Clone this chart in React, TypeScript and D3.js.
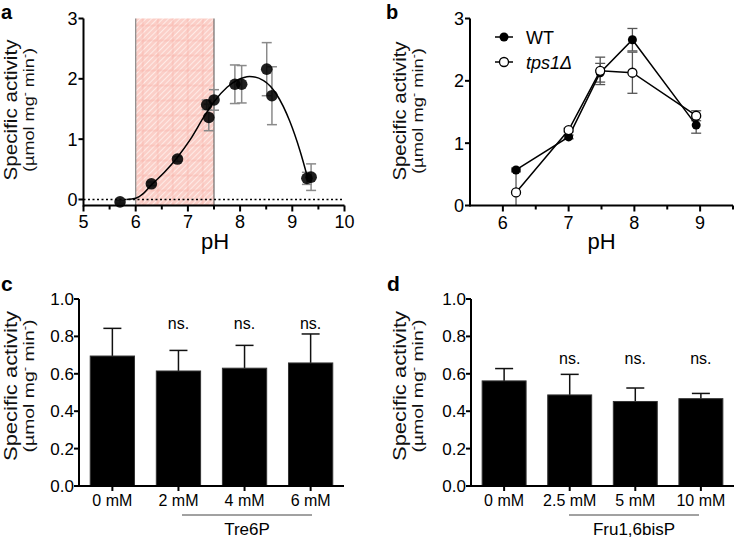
import React from "react";
import * as d3 from "d3";

// ---------- Panel a data ----------
const phA = [5.7, 6.3, 6.8, 7.36, 7.4, 7.5, 7.9, 8.03, 8.51, 8.61, 9.28, 9.36];
const actA = [-0.04, 0.26, 0.67, 1.57, 1.36, 1.65, 1.91, 1.91, 2.16, 1.72, 0.35, 0.37];
const errA = [0.02, 0.03, 0.04, 0.08, 0.22, 0.17, 0.32, 0.31, 0.44, 0.48, 0.1, 0.22];
const fitPhA = [5.82, 6.0, 6.15, 6.3, 6.55, 6.8, 7.05, 7.3, 7.5, 7.75, 7.95, 8.18, 8.45, 8.7, 8.95, 9.15, 9.3];
const fitActA = [0.0, 0.02, 0.1, 0.24, 0.45, 0.7, 1.0, 1.36, 1.62, 1.86, 1.98, 2.04, 1.97, 1.74, 1.3, 0.8, 0.34];
const shadeA = [6, 7.5];
const xTicksA = [5, 6, 7, 8, 9, 10];
const yTicksA = [0, 1, 2, 3];

// ---------- Panel b data ----------
const phB = [6.2, 7.0, 7.48, 7.97, 8.94];
const wtB = [0.57, 1.1, 2.13, 2.66, 1.29];
const wtErrB = [0.03, 0.03, 0.15, 0.18, 0.13];
const tpsB = [0.21, 1.21, 2.16, 2.13, 1.44];
const tpsErrB = [0.36, 0.03, 0.22, 0.33, 0.08];
const xTicksB = [6, 7, 8, 9];
const yTicksB = [0, 1, 2, 3];

// ---------- Panel c data ----------
const catsC = ["0 mM", "2 mM", "4 mM", "6 mM"];
const valC = [0.695, 0.615, 0.63, 0.658];
const errC = [0.148, 0.11, 0.122, 0.155];
const sigC = ["", "ns.", "ns.", "ns."];
const groupC = "Tre6P";

// ---------- Panel d data ----------
const catsD = ["0 mM", "2.5 mM", "5 mM", "10 mM"];
const valD = [0.562, 0.487, 0.452, 0.467];
const errD = [0.066, 0.11, 0.072, 0.028];
const sigD = ["", "ns.", "ns.", "ns."];
const groupD = "Fru1,6bisP";

const yTicksBar = [0, 0.2, 0.4, 0.6, 0.8, 1.0];

const FONT = "'Liberation Sans', Arial, Helvetica, sans-serif";

function YTitle({ x, y, len1, len2 }: { x: number; y: number; len1: number; len2: number }) {
  return (
    <g transform={`translate(${x},${y}) rotate(-90)`}>
      <text x={0} y={0} textAnchor="middle" fontSize={19} fill="#111" textLength={len1} lengthAdjust="spacingAndGlyphs">
        Specific activity
      </text>
      <text x={0} y={17} textAnchor="middle" fontSize={15} fill="#111" textLength={len2} lengthAdjust="spacingAndGlyphs">
        (µmol mg<tspan dy={-6} fontSize={10}>-</tspan>
        <tspan dy={6}> min</tspan>
        <tspan dy={-6} fontSize={10}>-</tspan>
        <tspan dy={6}>)</tspan>
      </text>
    </g>
  );
}

function PanelA() {
  const x = d3.scaleLinear().domain([5, 10]).range([83.5, 344.5]);
  const y = d3.scaleLinear().domain([-0.1, 3]).range([205.5, 18.5]);
  const minor = d3.range(5.5, 10, 1);
  const line = d3
    .line<number>()
    .x((_, i) => x(fitPhA[i]))
    .y((d) => y(d))
    .curve(d3.curveMonotoneX);
  return (
    <g>
      <defs>
        <pattern id="hatch" patternUnits="userSpaceOnUse" width={4} height={4} patternTransform="rotate(45)">
          <rect width={4} height={4} fill="#fbcfc8" />
          <line x1={0} y1={0} x2={0} y2={4} stroke="#fff3f0" strokeWidth={1.6} />
        </pattern>
        <pattern id="grid" patternUnits="userSpaceOnUse" width={15} height={15} x={x(shadeA[0])} y={y(3)}>
          <line x1={7} y1={0} x2={7} y2={15} stroke="#f6a9a0" strokeWidth={1} opacity={0.6} />
          <line x1={0} y1={7} x2={15} y2={7} stroke="#f6a9a0" strokeWidth={1} opacity={0.6} />
        </pattern>
      </defs>
      <rect x={x(shadeA[0])} y={y(3)} width={x(shadeA[1]) - x(shadeA[0])} height={y(-0.1) - y(3)} fill="url(#hatch)" />
      <rect x={x(shadeA[0])} y={y(3)} width={x(shadeA[1]) - x(shadeA[0])} height={y(-0.1) - y(3)} fill="url(#grid)" />
      <line x1={x(shadeA[0])} x2={x(shadeA[0])} y1={y(3)} y2={y(-0.1)} stroke="#888" strokeWidth={1.2} />
      <line x1={x(shadeA[1])} x2={x(shadeA[1])} y1={y(3)} y2={y(-0.1)} stroke="#555" strokeWidth={1} />
      <line x1={x(5)} x2={x(10)} y1={y(0)} y2={y(0)} stroke="#000" strokeWidth={1.6} strokeDasharray="2,2.5" />
      {phA.map((p, i) => (
        <g key={"e" + i} stroke="#8a8a8a" strokeWidth={1.5}>
          <line x1={x(p)} x2={x(p)} y1={y(actA[i] - errA[i])} y2={y(actA[i] + errA[i])} />
          <line x1={x(p) - 5} x2={x(p) + 5} y1={y(actA[i] - errA[i])} y2={y(actA[i] - errA[i])} />
          <line x1={x(p) - 5} x2={x(p) + 5} y1={y(actA[i] + errA[i])} y2={y(actA[i] + errA[i])} />
        </g>
      ))}
      <path d={line(fitActA) || ""} fill="none" stroke="#000" strokeWidth={1.5} />
      {phA.map((p, i) => (
        <circle key={"p" + i} cx={x(p)} cy={y(actA[i])} r={5.8} fill="#000" opacity={0.88} />
      ))}
      <line x1={x(5)} x2={x(10)} y1={y(-0.1)} y2={y(-0.1)} stroke="#000" strokeWidth={2} />
      <line x1={x(5)} x2={x(5)} y1={y(3)} y2={y(-0.1) + 1} stroke="#000" strokeWidth={2} />
      {xTicksA.map((t) => (
        <g key={"xt" + t}>
          <line x1={x(t)} x2={x(t)} y1={y(-0.1)} y2={y(-0.1) + 6} stroke="#000" strokeWidth={2} />
          <text x={x(t)} y={228} textAnchor="middle" fontSize={18}>{t}</text>
        </g>
      ))}
      {minor.map((t) => (
        <line key={"mx" + t} x1={x(t)} x2={x(t)} y1={y(-0.1)} y2={y(-0.1) + 4} stroke="#000" strokeWidth={2} />
      ))}
      {yTicksA.map((t) => (
        <g key={"yt" + t}>
          <line x1={x(5) - 5} x2={x(5)} y1={y(t)} y2={y(t)} stroke="#000" strokeWidth={2} />
          <text x={x(5) - 6} y={y(t) + 6.5} textAnchor="end" fontSize={18}>{t}</text>
        </g>
      ))}
      <text x={(x(5) + x(10)) / 2 + 1} y={249} textAnchor="middle" fontSize={22}>pH</text>
      <YTitle x={16.5} y={110} len1={141} len2={124} />
      <text x={1} y={18.5} fontSize={20} fontWeight="bold">a</text>
    </g>
  );
}

function PanelB() {
  const x = d3.scaleLinear().domain([5.5, 9.5]).range([470, 733]);
  const y = d3.scaleLinear().domain([0, 3]).range([205.5, 18.5]);
  const minor = [6.5, 7.5, 8.5, 9.5];
  const line = d3
    .line<number>()
    .x((_, i) => x(phB[i]))
    .y((d) => y(d));
  const clip = (v: number) => Math.max(0, v);
  const errs = (vals: number[], errs: number[], key: string) =>
    phB.map((p, i) => (
      <g key={key + i} stroke="#555" strokeWidth={1.3}>
        <line x1={x(p)} x2={x(p)} y1={y(clip(vals[i] - errs[i]))} y2={y(vals[i] + errs[i])} />
        {vals[i] - errs[i] > 0 && (
          <line x1={x(p) - 5} x2={x(p) + 5} y1={y(vals[i] - errs[i])} y2={y(vals[i] - errs[i])} />
        )}
        <line x1={x(p) - 5} x2={x(p) + 5} y1={y(vals[i] + errs[i])} y2={y(vals[i] + errs[i])} />
      </g>
    ));
  return (
    <g>
      {errs(wtB, wtErrB, "we")}
      {errs(tpsB, tpsErrB, "te")}
      <path d={line(wtB) || ""} fill="none" stroke="#000" strokeWidth={1.5} />
      <path d={line(tpsB) || ""} fill="none" stroke="#000" strokeWidth={1.5} />
      {phB.map((p, i) => (
        <circle key={"w" + i} cx={x(p)} cy={y(wtB[i])} r={4.5} fill="#000" />
      ))}
      {phB.map((p, i) => (
        <circle key={"t" + i} cx={x(p)} cy={y(tpsB[i])} r={4.5} fill="#fff" stroke="#000" strokeWidth={1.3} />
      ))}
      <line x1={x(5.5)} x2={x(9.5)} y1={y(0)} y2={y(0)} stroke="#000" strokeWidth={2} />
      <line x1={x(5.5)} x2={x(5.5)} y1={y(3)} y2={y(0) + 1} stroke="#000" strokeWidth={2} />
      {xTicksB.map((t) => (
        <g key={"xt" + t}>
          <line x1={x(t)} x2={x(t)} y1={y(0)} y2={y(0) + 6} stroke="#000" strokeWidth={2} />
          <text x={x(t)} y={229} textAnchor="middle" fontSize={18}>{t}</text>
        </g>
      ))}
      {minor.map((t) => (
        <line key={"mx" + t} x1={x(t)} x2={x(t)} y1={y(0)} y2={y(0) + 4} stroke="#000" strokeWidth={2} />
      ))}
      {yTicksB.map((t) => (
        <g key={"yt" + t}>
          <line x1={x(5.5) - 5} x2={x(5.5)} y1={y(t)} y2={y(t)} stroke="#000" strokeWidth={2} />
          <text x={x(5.5) - 6} y={y(t) + 6.5} textAnchor="end" fontSize={18}>{t}</text>
        </g>
      ))}
      <text x={x(7.5)} y={249} textAnchor="middle" fontSize={22}>pH</text>
      <YTitle x={406} y={111} len1={139} len2={126} />
      <text x={386} y={18.5} fontSize={20} fontWeight="bold">b</text>
      <g>
        <line x1={495} x2={513} y1={37} y2={37} stroke="#000" strokeWidth={1.5} />
        <circle cx={504} cy={37} r={4.5} fill="#000" />
        <text x={526} y={43.5} fontSize={18}>WT</text>
        <line x1={495} x2={513} y1={62} y2={62} stroke="#000" strokeWidth={1.5} />
        <circle cx={504} cy={62} r={4.5} fill="#fff" stroke="#000" strokeWidth={1.3} />
        <text x={526} y={68.5} fontSize={18} fontStyle="italic">tps1Δ</text>
      </g>
    </g>
  );
}

function BarPanel({
  cats, vals, errs, sigs, group, x0, x1, letter, letterX, titleX, sigY, lineX0, lineX1,
}: {
  cats: string[]; vals: number[]; errs: number[]; sigs: string[]; group: string;
  x0: number; x1: number; letter: string; letterX: number; titleX: number; sigY: number;
  lineX0: number; lineX1: number;
}) {
  const x = d3.scaleBand<string>().domain(cats).range([x0, x1]).paddingInner(0.33).paddingOuter(0.17);
  const y = d3.scaleLinear().domain([0, 1]).range([486, 299]);
  const bw = x.bandwidth();
  return (
    <g>
      {cats.map((c, i) => {
        const cx = (x(c) || 0) + bw / 2;
        return (
          <g key={c}>
            <line x1={cx} x2={cx} y1={y(vals[i])} y2={y(vals[i] + errs[i])} stroke="#111" strokeWidth={1.5} />
            <line x1={cx - 9} x2={cx + 9} y1={y(vals[i] + errs[i])} y2={y(vals[i] + errs[i])} stroke="#111" strokeWidth={1.5} />
            <rect x={x(c)} y={y(vals[i])} width={bw} height={y(0) - y(vals[i])} fill="#000" stroke="#333" strokeWidth={1} />
            {sigs[i] && (
              <text x={cx} y={sigY} textAnchor="middle" fontSize={16}>{sigs[i]}</text>
            )}
            <line x1={cx} x2={cx} y1={y(0)} y2={y(0) + 5} stroke="#000" strokeWidth={2} />
            <text x={cx} y={506} textAnchor="middle" fontSize={16}>{c}</text>
          </g>
        );
      })}
      <line x1={x0} x2={x1} y1={y(0)} y2={y(0)} stroke="#000" strokeWidth={2} />
      <line x1={x0} x2={x0} y1={y(1)} y2={y(0) + 1} stroke="#000" strokeWidth={2} />
      {yTicksBar.map((t) => (
        <g key={"yt" + t}>
          <line x1={x0 - 5} x2={x0} y1={y(t)} y2={y(t)} stroke="#000" strokeWidth={2} />
          <text x={x0 - 5} y={y(t) + 6} textAnchor="end" fontSize={17}>{t.toFixed(1)}</text>
        </g>
      ))}
      <line x1={lineX0} x2={lineX1} y1={515} y2={515} stroke="#444" strokeWidth={1} />
      <text x={(lineX0 + lineX1) / 2} y={535} textAnchor="middle" fontSize={17}>{group}</text>
      <YTitle x={titleX} y={386} len1={150} len2={133} />
      <text x={letterX} y={291} fontSize={21} fontWeight="bold">{letter}</text>
    </g>
  );
}

export default function App() {
  return (
    <svg width={734} height={541} style={{ display: "block", position: "absolute", left: 0, top: 0, background: "#fff" }} fontFamily={FONT}>
      <rect width={734} height={541} fill="#fff" />
      <PanelA />
      <PanelB />
      <BarPanel cats={catsC} vals={valC} errs={errC} sigs={sigC} group={groupC} x0={79} x1={344}
        letter="c" letterX={1} titleX={16.5} sigY={329} lineX0={182} lineX1={312} />
      <BarPanel cats={catsD} vals={valD} errs={errD} sigs={sigD} group={groupD} x0={471} x1={734}
        letter="d" letterX={387} titleX={406} sigY={364} lineX0={569} lineX1={699} />
    </svg>
  );
}
